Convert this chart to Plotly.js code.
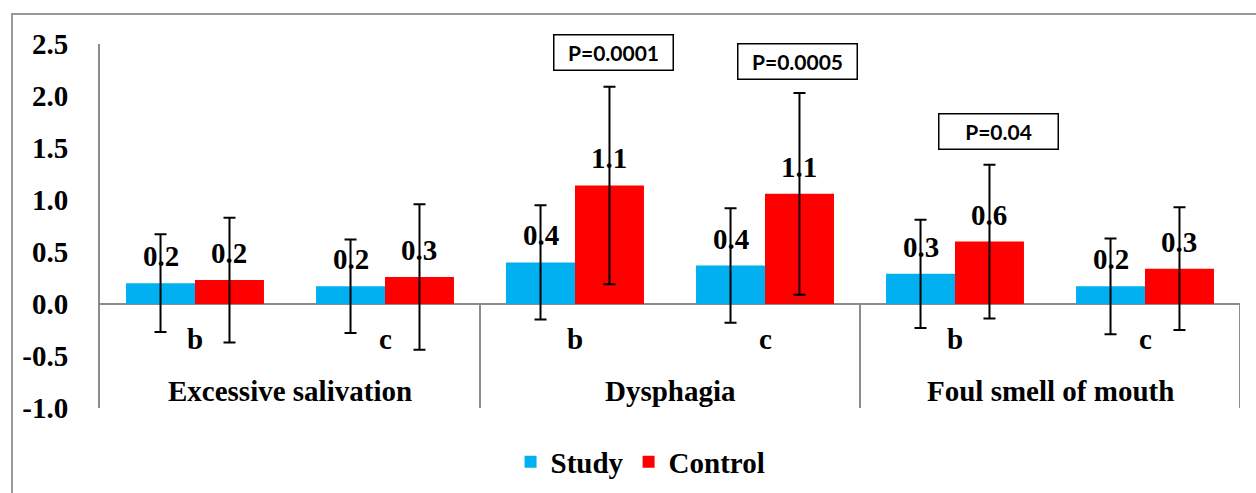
<!DOCTYPE html>
<html>
<head>
<meta charset="utf-8">
<script src="https://cdn.plot.ly/plotly-3.0.1.min.js"></script>
<style>html,body{margin:0;padding:0;background:#fff;}#chart{width:1256px;height:493px;}</style>
</head>
<body>
<div id="chart"></div>
<script>
// ---- data ----
const groups = ["Excessive salivation", "Dysphagia", "Foul smell of mouth"];
const subLabels = ["b", "c", "b", "c", "b", "c"];
const categories = ["sal_b", "sal_c", "dys_b", "dys_c", "foul_b", "foul_c"];
const studyValues = [0.20, 0.17, 0.40, 0.37, 0.29, 0.17];
const studyErrors = [0.47, 0.45, 0.55, 0.55, 0.52, 0.46];
const controlValues = [0.23, 0.26, 1.14, 1.06, 0.60, 0.34];
const controlErrors = [0.60, 0.70, 0.95, 0.97, 0.74, 0.59];
const pLabels = ["P=0.0001", "P=0.0005", "P=0.04"];
const pCategoryIndex = [2, 3, 4];
const yTickVals = [-1.0, -0.5, 0.0, 0.5, 1.0, 1.5, 2.0, 2.5];
const yTickText = ["-1.0", "-0.5", "0.0", "0.5", "1.0", "1.5", "2.0", "2.5"];

// ---- styling ----
const SERIF = 'Liberation Serif, Times New Roman, serif';
const FS = 29;
const BARGAP = 0.274;
const half = (1 - BARGAP) / 4; // offset of each bar center from category center
const gray = '#8c8c8c';
const boldFont = {family: SERIF, size: FS, color: '#000', weight: 'bold'};

const traces = [
  {
    type: 'bar', name: 'Study', x: categories, y: studyValues,
    marker: {color: '#00B0F0', line: {width: 0}},
    error_y: {type: 'data', array: studyErrors, visible: true, color: '#000', thickness: 2, width: 6}
  },
  {
    type: 'bar', name: 'Control', x: categories, y: controlValues,
    marker: {color: '#FF0000', line: {width: 0}},
    error_y: {type: 'data', array: controlErrors, visible: true, color: '#000', thickness: 2, width: 6}
  }
];

const annotations = [];
// value labels and sub-category labels
categories.forEach((c, i) => {
  annotations.push({x: i - half, y: studyValues[i], xref: 'x', yref: 'y', text: studyValues[i].toFixed(1),
    showarrow: false, yshift: 27, yanchor: 'middle', font: boldFont});
  annotations.push({x: i + half, y: controlValues[i], xref: 'x', yref: 'y', text: controlValues[i].toFixed(1),
    showarrow: false, yshift: 27, yanchor: 'middle', font: boldFont});
  annotations.push({x: i, y: -0.34, xref: 'x', yref: 'y', text: subLabels[i], showarrow: false,
    yanchor: 'middle', font: boldFont});
});
// group labels
groups.forEach((g, k) => {
  annotations.push({x: 2 * k + 0.5, y: -0.84, xref: 'x', yref: 'y', text: g, showarrow: false,
    yanchor: 'middle', font: boldFont});
});
// p-value boxes
const pOffsets = [0.2, 0.17, 0.23];
const pY = [2.42, 2.33, 1.66];
pLabels.forEach((t, k) => {
  annotations.push({x: pCategoryIndex[k] + pOffsets[k], y: pY[k], xref: 'x', yref: 'y', text: t, showarrow: false,
    yanchor: 'middle', xanchor: 'center', width: 114, height: 30, borderpad: 2, bordercolor: '#000', borderwidth: 1.5,
    bgcolor: '#fff', font: {family: 'Lato, Liberation Sans, sans-serif', size: 21, color: '#000', weight: 'bold'}});
});

const shapes = [];
[1.5, 3.5, 5.5].forEach(xv => {
  shapes.push({type: 'line', xref: 'x', yref: 'y', x0: xv, x1: xv, y0: 0, y1: -1, line: {color: gray, width: 2}});
});
// chart frame
shapes.push({type: 'rect', xref: 'paper', yref: 'paper', x0: -0.0772, x1: 1.03, y0: -0.3, y1: 1.0824,
  line: {color: '#999', width: 2}, layer: 'below'});

const layout = {
  width: 1256, height: 493,
  margin: {l: 100, r: 16, t: 44, b: 85},
  paper_bgcolor: '#fff', plot_bgcolor: 'rgba(0,0,0,0)',
  font: {family: SERIF},
  barmode: 'group', bargap: BARGAP, bargroupgap: 0,
  showlegend: true,
  legend: {orientation: 'h', xref: 'container', yref: 'container', x: 0.51, xanchor: 'center', y: 0.063, yanchor: 'middle',
    font: boldFont, itemwidth: 30, tracegroupgap: 0, bgcolor: 'rgba(0,0,0,0)'},
  xaxis: {type: 'category', categoryorder: 'array', categoryarray: categories, range: [-0.5, 5.5],
    showticklabels: false, showline: false, showgrid: false, zeroline: false, ticks: '', fixedrange: true},
  yaxis: {range: [-1.0, 2.5], tickvals: yTickVals, ticktext: yTickText, showgrid: false,
    showline: true, linecolor: gray, linewidth: 2, ticks: '', ticklabelstandoff: 24,
    zeroline: true, zerolinecolor: gray, zerolinewidth: 2, automargin: false,
    tickfont: boldFont},
  annotations: annotations,
  shapes: shapes
};

Plotly.newPlot('chart', traces, layout, {displayModeBar: false, staticPlot: true});
</script>
</body>
</html>
